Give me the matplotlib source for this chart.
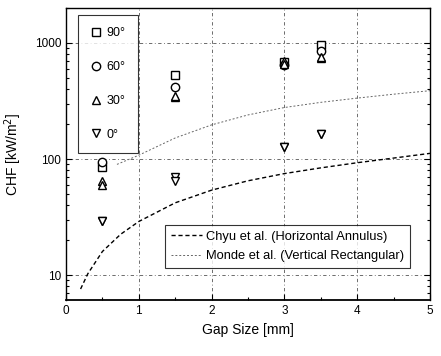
import matplotlib
matplotlib.use("Agg")
import matplotlib.pyplot as plt
from matplotlib.ticker import FixedLocator, LogLocator, NullFormatter, MultipleLocator

plt.rcParams['font.family'] = ['Liberation Sans', 'DejaVu Sans']

# experimental data
gap = [0.5, 1.5, 3.0, 3.5]
chf_90 = [85, 530, 680, 960]
chf_60 = [95, 420, 650, 850]
chf_30 = [65, 345, 700, 745]
chf_30b = [60, 350, 660, 760]
chf_0 = [29, 70, 126, 164]
chf_0b = [29, 65, 126, 164]

# correlations
chyu_x = [0.2, 0.3, 0.5, 0.75, 1.0, 1.5, 2.0, 2.5, 3.0, 3.5, 4.0, 4.5, 5.0]
chyu_y = [7.6, 10.3, 16, 22.5, 29, 42, 54, 65, 75, 84, 93, 102, 112]
monde_x = [0.7, 1.0, 1.5, 2.0, 2.5, 3.0, 3.5, 4.0, 4.5, 5.0]
monde_y = [90, 108, 152, 197, 240, 278, 308, 335, 362, 388]

labels = ["90°", "60°", "30°", "0°"]

fig = plt.figure(figsize=(4.41, 3.56), dpi=100)
ax = fig.add_axes([0.1497, 0.157, 0.8253, 0.8205])
ax.set_yscale('log')
ax.set_xlim(0, 5)
ax.set_ylim(6.1, 2000)

for xv in [1, 2, 3, 4]:
    ax.axvline(xv, color='#555555', lw=0.6, ls=(0, (4, 3, 1, 3)), zorder=0)
for yv in [10, 100, 1000]:
    ax.axhline(yv, color='#555555', lw=0.6, ls=(0, (4, 3, 1, 3)), zorder=0)

ms = 6
mk = dict(mfc='white', mec='black', mew=1.0, ls='none', ms=ms)
h90, = ax.plot(gap, chf_90, marker='s', **mk)
h60, = ax.plot(gap, chf_60, marker='o', **mk)
h30, = ax.plot(gap, chf_30, marker='^', **mk)
ax.plot(gap, chf_30b, marker='^', **mk)
h0, = ax.plot(gap, chf_0, marker='v', **mk)
ax.plot(gap, chf_0b, marker='v', **mk)

hc, = ax.plot(chyu_x, chyu_y, color='black', lw=1.0, ls=(0, (3, 2)))
hm, = ax.plot(monde_x, monde_y, color='#666666', lw=0.7, ls=(0, (2, 2)))

leg1 = ax.legend([h90, h60, h30, h0], labels, loc='upper left',
                 bbox_to_anchor=(0.033, 0.975), frameon=True, fancybox=False,
                 edgecolor='black', fontsize=9, labelspacing=1.75,
                 handletextpad=0.45, borderpad=0.95, handlelength=0.9,
                 borderaxespad=0)
leg1.get_frame().set_linewidth(0.8)
ax.add_artist(leg1)
leg2 = ax.legend([hc, hm], ["Chyu et al. (Horizontal Annulus)",
                            "Monde et al. (Vertical Rectangular)"],
                 loc='lower right', bbox_to_anchor=(0.945, 0.11),
                 frameon=True, fancybox=False, edgecolor='black',
                 fontsize=9.3, handlelength=2.4, handletextpad=0.3,
                 borderaxespad=0, labelspacing=0.55, borderpad=0.45)
leg2.get_frame().set_linewidth(0.8)

ax.xaxis.set_major_locator(MultipleLocator(1))
ax.xaxis.set_minor_locator(MultipleLocator(0.5))
ax.yaxis.set_major_locator(FixedLocator([10, 100, 1000]))
ax.yaxis.set_minor_locator(LogLocator(base=10, subs=range(2, 10)))
ax.yaxis.set_minor_formatter(NullFormatter())
ax.set_yticklabels(['10', '100', '1000'])
ax.tick_params(which='both', direction='in', right=True, top=False,
               labelsize=8.5, width=0.8)
ax.tick_params(which='major', length=4)
ax.tick_params(which='minor', length=2)
for s in ax.spines.values():
    s.set_linewidth(1.0)
ax.spines['bottom'].set_linewidth(1.3)

ax.set_xlabel('Gap Size [mm]', fontsize=10, labelpad=4)
ax.set_ylabel('CHF [kW/m$^{2}$]', fontsize=10, labelpad=8)

fig.savefig('out.png', dpi=100)
